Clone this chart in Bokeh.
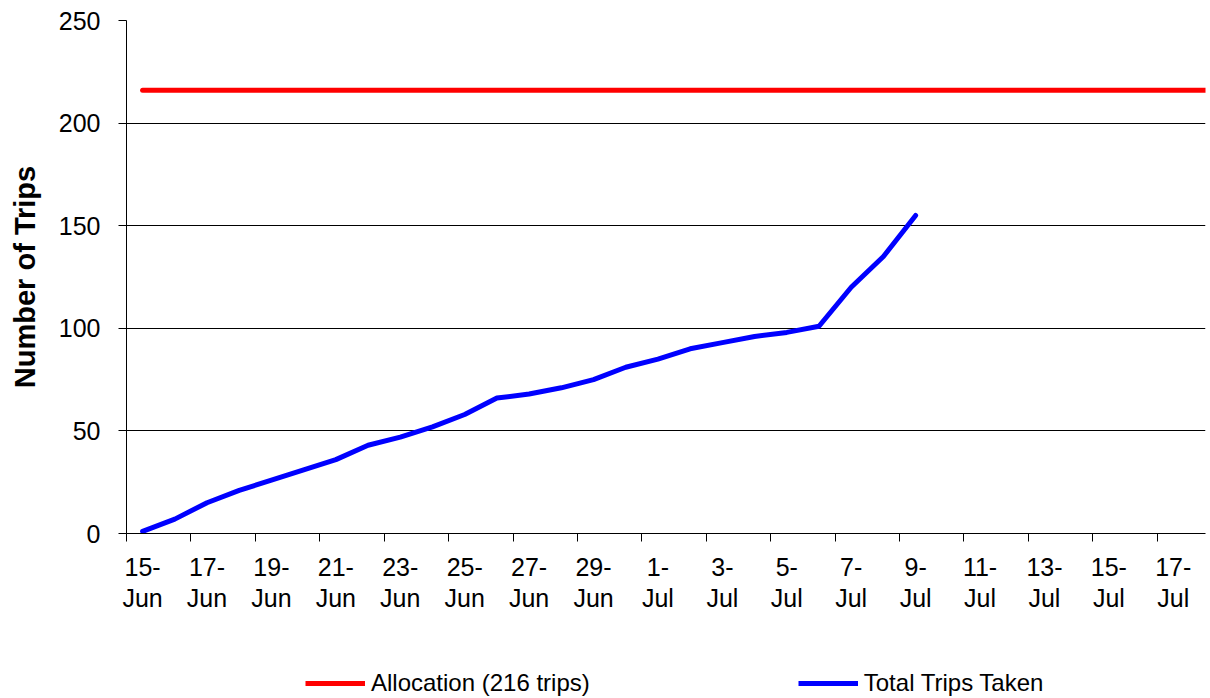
from bokeh.plotting import figure
from bokeh.layouts import column
from bokeh.models import LinearAxis, FixedTicker, Range1d, Legend, LegendItem
from bokeh.embed import file_html
from bokeh.resources import INLINE

# ---- data ----
categories = ["15-Jun", "16-Jun", "17-Jun", "18-Jun", "19-Jun", "20-Jun", "21-Jun",
              "22-Jun", "23-Jun", "24-Jun", "25-Jun", "26-Jun", "27-Jun", "28-Jun",
              "29-Jun", "30-Jun", "1-Jul", "2-Jul", "3-Jul", "4-Jul", "5-Jul",
              "6-Jul", "7-Jul", "8-Jul", "9-Jul", "10-Jul", "11-Jul", "12-Jul",
              "13-Jul", "14-Jul", "15-Jul", "16-Jul", "17-Jul", "18-Jul"]
trips_taken = [1, 7, 15, 21, 26, 31, 36, 43, 47, 52, 58, 66, 68, 71, 75, 81,
               85, 90, 93, 96, 98, 101, 120, 135, 155]
allocation = 216
y_ticks = [0, 50, 100, 150, 200, 250]

FONT = "Liberation Sans"
RED = "#FF0000"
BLUE = "#0000FF"

p = figure(frame_width=1079, frame_height=513, output_backend="svg", toolbar_location=None,
           x_range=Range1d(-0.5, 33.0), y_range=Range1d(0, 250),
           x_axis_location=None,
           min_border_left=126, min_border_right=5, min_border_top=20,
           min_border_bottom=115)
p.outline_line_color = None
p.background_fill_color = "white"
p.border_fill_color = "white"

for g in p.grid:
    if g.dimension == 0:
        g.visible = False
    else:
        g.ticker = FixedTicker(ticks=y_ticks)
        g.grid_line_color = "#000000"
        g.grid_line_width = 1

ya = p.yaxis[0]
ya.ticker = FixedTicker(ticks=y_ticks)
ya.axis_line_color = "#000000"
ya.major_tick_line_color = "#000000"
ya.minor_tick_line_color = None
ya.major_tick_out = 8
ya.major_tick_in = 0
ya.major_label_standoff = 18
ya.major_label_text_font = FONT
ya.major_label_text_font_size = "25px"
ya.major_label_text_color = "#000000"
ya.axis_label = "Number of Trips"
ya.axis_label_text_font = FONT
ya.axis_label_text_font_size = "29px"
ya.axis_label_text_font_style = "bold"
ya.axis_label_text_color = "#000000"
ya.axis_label_standoff = 15

idx = list(range(len(categories)))
label_idx = idx[::2]
between_ticks = [i - 0.5 for i in label_idx]
day_labels = {i: categories[i].split("-")[0] + "-" for i in label_idx}
mon_labels = {i: categories[i].split("-")[1] for i in label_idx}

# day axis: carries axis line + tick marks between categories (as minor ticks)
day_axis = LinearAxis(ticker=FixedTicker(ticks=label_idx, minor_ticks=between_ticks),
                      major_label_overrides=day_labels,
                      axis_line_color="#000000", major_tick_line_color=None,
                      minor_tick_line_color="#000000",
                      major_tick_out=8, major_tick_in=0,
                      minor_tick_out=8, minor_tick_in=0,
                      major_label_standoff=16, major_label_text_font=FONT,
                      major_label_text_font_size="25px", major_label_text_color="#000000")
p.add_layout(day_axis, "below")
mon_axis = LinearAxis(ticker=FixedTicker(ticks=label_idx), major_label_overrides=mon_labels,
                      axis_line_color=None, major_tick_line_color=None,
                      minor_tick_line_color=None, major_tick_out=0, major_tick_in=0,
                      major_label_standoff=5, major_label_text_font=FONT,
                      major_label_text_font_size="25px", major_label_text_color="#000000")
p.add_layout(mon_axis, "below")

p.line(x=idx, y=[allocation] * len(idx), line_color=RED, line_width=5,
       line_cap="round", line_join="round")
p.line(x=idx[:len(trips_taken)], y=trips_taken, line_color=BLUE, line_width=5,
       line_cap="round", line_join="round")

# ---- legend strip below the chart ----
lg = figure(width=1210, height=50, output_backend="svg", toolbar_location=None,
            x_range=Range1d(-10, -9), y_range=Range1d(0, 250),
            x_axis_location=None, y_axis_location=None, min_border=0)
lg.outline_line_color = None
lg.grid.visible = False
lg.background_fill_color = "white"
lg.border_fill_color = "white"
l_alloc = lg.line(x=idx, y=[allocation] * len(idx), line_color=RED, line_width=5)
l_trips = lg.line(x=idx[:len(trips_taken)], y=trips_taken, line_color=BLUE, line_width=5)

legend = Legend(items=[LegendItem(label=f"Allocation ({allocation} trips)", renderers=[l_alloc]),
                       LegendItem(label="Total Trips Taken", renderers=[l_trips])],
                orientation="horizontal", location=(179, 1),
                glyph_width=60, glyph_height=20, label_standoff=6, spacing=208,
                padding=0, margin=0, border_line_color=None, background_fill_alpha=0,
                label_text_font=FONT, label_text_font_size="24px",
                label_text_color="#000000")
lg.add_layout(legend)

layout = column(p, lg, spacing=0)
open("out.html", "w").write(file_html(layout, INLINE))
